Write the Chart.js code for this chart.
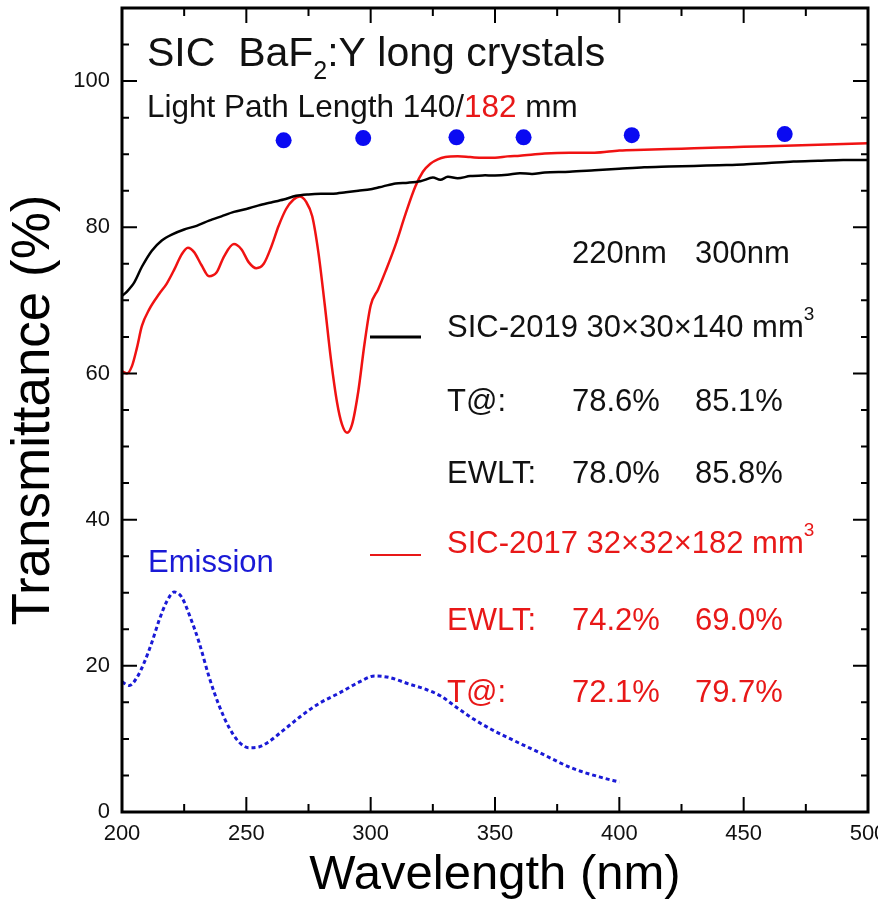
<!DOCTYPE html>
<html>
<head>
<meta charset="utf-8">
<script src="https://cdn.jsdelivr.net/npm/chart.js@4/dist/chart.umd.min.js"></script>
<style>
  html, body { margin: 0; padding: 0; overflow: hidden; background: #fff; }
  #wrap { position: relative; width: 878px; height: 915px; }
</style>
</head>
<body>
<div id="wrap"><canvas id="c" width="878" height="915"></canvas></div>
<script>
// SIC-2019 BaF2:Y, 30x30x140 mm3 transmittance (%)
const wl2019 = [200, 202, 205, 208, 212, 216, 220, 225, 230, 235, 240, 245, 250, 255, 260, 265, 270, 275, 280, 285,
  290, 295, 300, 305, 310, 315, 320, 325, 328, 331, 335, 340, 345, 350, 355, 360, 365, 370, 380, 390,
  400, 410, 420, 430, 440, 450, 460, 470, 480, 490, 500];
const t2019 = [70.6, 71.2, 72.5, 74.6, 76.8, 78.2, 79.0, 79.7, 80.2, 80.9, 81.5, 82.1, 82.5, 83.0, 83.4, 83.8, 84.3, 84.5, 84.6, 84.6,
  84.8, 85.0, 85.2, 85.6, 86.0, 86.1, 86.3, 86.8, 86.5, 86.9, 86.7, 87.0, 87.1, 87.1, 87.2, 87.4, 87.3, 87.5, 87.6, 87.8,
  88.0, 88.2, 88.3, 88.4, 88.5, 88.6, 88.8, 89.0, 89.1, 89.2, 89.2];

// SIC-2017 BaF2:Y, 32x32x182 mm3 transmittance (%)
const wl2017 = [200, 202, 204, 206, 208, 211, 215, 218, 221, 224, 226.5, 229, 232, 235, 238, 241, 245, 248, 251, 254,
  257, 260, 263, 266, 269, 271.5, 274, 276.5, 279, 281.5, 284, 286.5, 288.5, 290.5, 292.5, 295, 297.5, 300, 303, 306, 310,
  314, 318, 321, 324, 327, 330, 335, 340, 345, 350, 355, 360, 370, 380, 390, 400, 410, 420, 430, 440,
  450, 460, 470, 480, 490, 500];
const t2017 = [60.3, 60.0, 61.0, 63.5, 66.5, 68.8, 70.9, 72.3, 74.2, 76.3, 77.2, 76.6, 74.8, 73.3, 73.8, 76.0, 77.7, 77.0, 75.2, 74.4,
  75.0, 77.3, 80.2, 82.5, 83.8, 84.2, 83.5, 81.5, 76.5, 69.5, 62.0, 56.0, 53.0, 51.9, 53.0, 57.5, 64.0, 69.3, 71.5, 74.0, 77.6,
  81.8, 85.6, 87.6, 88.7, 89.3, 89.6, 89.7, 89.6, 89.5, 89.5, 89.7, 89.8, 90.1, 90.2, 90.2, 90.5, 90.6, 90.7, 90.8, 90.9,
  91.0, 91.1, 91.2, 91.3, 91.4, 91.5];

// Scintillation emission spectrum (arbitrary units on the same axis)
const wlEmission = [200, 203, 206, 209, 212, 215, 218, 221, 224, 227.5, 231, 235, 239, 243, 247, 251, 255, 259, 263.5, 267.5,
  271.5, 279.5, 287.5, 295.5, 301.5, 307.5, 315.5, 322, 328, 335, 341, 348, 355, 368, 381, 392, 400];
const emission = [17.8, 17.3, 18.4, 20.5, 23.2, 26.3, 28.8, 30.1, 29.4, 26.6, 23.2, 18.5, 14.6, 11.6, 9.6, 8.8, 8.9, 9.6, 10.8, 11.9,
  13.0, 14.9, 16.3, 17.8, 18.6, 18.4, 17.5, 16.8, 15.9, 14.2, 12.8, 11.4, 10.2, 8.1, 6.0, 4.8, 4.1];

// Spectrophotometer reference points
const dotWl = [265, 297, 334.5, 361.5, 405, 466.5];
const dotT = [91.9, 92.2, 92.3, 92.3, 92.6, 92.75];

// Axis settings
const xTicks = [200, 250, 300, 350, 400, 450, 500];
const yTicks = [0, 20, 40, 60, 80, 100];

const FONT = '"Liberation Sans", Arial, Helvetica, sans-serif';
const RED = '#e81818';
const BLUE = '#1a1ad6';

const pts = (xs, ys) => xs.map((v, i) => ({ x: v, y: ys[i] }));

function runs(ctx, x, y, parts) {
  for (const p of parts) {
    ctx.font = p.font;
    ctx.fillStyle = p.color;
    ctx.fillText(p.text, x, y + (p.dy || 0));
    x += ctx.measureText(p.text).width;
  }
}

const decorations = {
  id: 'decorations',
  afterDatasetsDraw(chart) {
    const { ctx, chartArea: a, scales: { x, y } } = chart;
    ctx.save();

    // annotations
    ctx.textBaseline = 'alphabetic';
    ctx.textAlign = 'left';
    const f41 = '41px ' + FONT, f31b = '31.5px ' + FONT, f31 = '31px ' + FONT;
    runs(ctx, 147, 66, [
      { text: 'SIC  BaF', font: f41, color: '#111' },
      { text: '2', font: '25px ' + FONT, color: '#111', dy: 13 },
      { text: ':Y long crystals', font: f41, color: '#111' }
    ]);
    runs(ctx, 147, 117, [
      { text: 'Light Path Length 140/', font: f31b, color: '#111' },
      { text: '182', font: f31b, color: RED },
      { text: ' mm', font: f31b, color: '#111' }
    ]);

    const c1 = 447, c2 = 572, c3 = 695;
    const put = (t, px, py, col) => { ctx.font = f31; ctx.fillStyle = col; ctx.fillText(t, px, py); };
    put('220nm', c2, 263, '#111');
    put('300nm', c3, 263, '#111');
    runs(ctx, c1, 337, [
      { text: 'SIC-2019 30\u00d730\u00d7140 mm', font: f31, color: '#111' },
      { text: '3', font: '19px ' + FONT, color: '#111', dy: -17 }
    ]);
    put('T@:', c1, 411, '#111'); put('78.6%', c2, 411, '#111'); put('85.1%', c3, 411, '#111');
    put('EWLT:', c1, 483, '#111'); put('78.0%', c2, 483, '#111'); put('85.8%', c3, 483, '#111');
    runs(ctx, c1, 553, [
      { text: 'SIC-2017 32\u00d732\u00d7182 mm', font: f31, color: RED },
      { text: '3', font: '19px ' + FONT, color: RED, dy: -17 }
    ]);
    put('EWLT:', c1, 630, RED); put('74.2%', c2, 630, RED); put('69.0%', c3, 630, RED);
    put('T@:', c1, 702, RED); put('72.1%', c2, 702, RED); put('79.7%', c3, 702, RED);
    put('Emission', 148, 572, BLUE);

    // legend line samples
    ctx.lineCap = 'butt';
    ctx.strokeStyle = '#000'; ctx.lineWidth = 3;
    ctx.beginPath(); ctx.moveTo(370, 337); ctx.lineTo(421, 337); ctx.stroke();
    ctx.strokeStyle = RED; ctx.lineWidth = 2;
    ctx.beginPath(); ctx.moveTo(370, 555); ctx.lineTo(421, 555); ctx.stroke();

    // inward tick marks on all four sides
    ctx.strokeStyle = '#000';
    ctx.lineWidth = 2;
    ctx.beginPath();
    for (let v = x.min; v <= x.max; v += 25) {
      const px = x.getPixelForValue(v);
      const len = v % 50 === 0 ? 15 : 8;
      ctx.moveTo(px, a.bottom); ctx.lineTo(px, a.bottom - len);
      ctx.moveTo(px, a.top); ctx.lineTo(px, a.top + len);
    }
    for (let v = y.min; v <= y.max; v += 5) {
      const py = y.getPixelForValue(v);
      const len = v % 20 === 0 ? 15 : 7;
      ctx.moveTo(a.left, py); ctx.lineTo(a.left + len, py);
      ctx.moveTo(a.right, py); ctx.lineTo(a.right - len, py);
    }
    ctx.stroke();

    // frame
    ctx.lineWidth = 3;
    ctx.strokeRect(a.left, a.top, a.right - a.left, a.bottom - a.top);
    ctx.restore();
  }
};

new Chart(document.getElementById('c'), {
  type: 'line',
  data: {
    datasets: [
      { label: 'SIC-2019', data: pts(wl2019, t2019), borderColor: '#000', borderWidth: 2.5,
        pointRadius: 0, tension: 0.3 },
      { label: 'SIC-2017', data: pts(wl2017, t2017), borderColor: '#f01212', borderWidth: 2.5,
        pointRadius: 0, cubicInterpolationMode: 'monotone' },
      { label: 'Emission', data: pts(wlEmission, emission), borderColor: BLUE, borderWidth: 3,
        borderDash: [4, 3], pointRadius: 0, cubicInterpolationMode: 'monotone' },
      { type: 'scatter', label: 'Reference points', data: pts(dotWl, dotT), showLine: false,
        pointRadius: 8, pointBackgroundColor: '#0a0af2', pointBorderWidth: 0 }
    ]
  },
  options: {
    responsive: false,
    animation: false,
    events: [],
    layout: { padding: { left: 0, right: 10, top: 8, bottom: 0 } },
    plugins: { legend: { display: false }, tooltip: { enabled: false } },
    scales: {
      x: {
        type: 'linear', min: 200, max: 500,
        grid: { display: false, drawTicks: false },
        border: { display: false },
        afterBuildTicks(s) { s.ticks = xTicks.map(v => ({ value: v })); },
        ticks: { padding: 9, color: '#111', font: { family: FONT, size: 22 }, maxRotation: 0, autoSkip: false },
        title: { display: true, text: 'Wavelength (nm)', color: '#000',
          font: { family: FONT, size: 49 }, padding: { top: 0, bottom: 10 } },
        afterFit(s) { s.height = 103; s.paddingLeft = 0; s.paddingRight = 0; }
      },
      y: {
        type: 'linear', min: 0, max: 110,
        grid: { display: false, drawTicks: false },
        border: { display: false },
        afterBuildTicks(s) { s.ticks = yTicks.map(v => ({ value: v })); },
        ticks: { padding: 12, color: '#111', font: { family: FONT, size: 22 } },
        title: { display: true, text: 'Transmittance (%)', color: '#000',
          font: { family: FONT, size: 53 }, padding: { top: 3, bottom: 0 } },
        afterFit(s) { s.width = 122; s.paddingTop = 0; s.paddingBottom = 0; }
      }
    }
  },
  plugins: [decorations]
});
</script>
</body>
</html>
